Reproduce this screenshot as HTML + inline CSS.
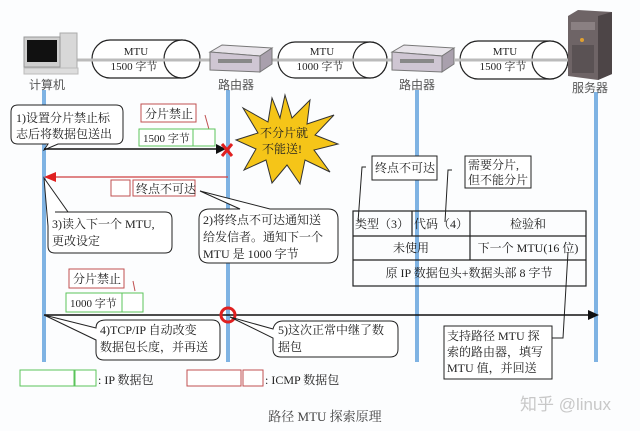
<!DOCTYPE html>
<html><head><meta charset="utf-8"><style>
html,body{margin:0;padding:0;background:#fff;}
svg{display:block;font-family:"Liberation Serif","Noto Serif CJK SC",serif;}
</style></head><body>
<svg width="640" height="431" viewBox="0 0 640 431" xmlns="http://www.w3.org/2000/svg">
<rect width="640" height="431" fill="#fcfdfe"/>
<!-- vertical lines -->
<g stroke="#7fb3e3" stroke-width="4">
<line x1="44" y1="90" x2="44" y2="362"/>
<line x1="228" y1="90" x2="228" y2="362"/>
<line x1="417" y1="90" x2="417" y2="362"/>
<line x1="596" y1="92" x2="596" y2="362"/>
</g>
<!-- cylinders -->
<g stroke="#222" stroke-width="1.2" fill="#fff">
<path d="M110,40 H182 A18,19 0 0 1 182,78 H110 A18,19 0 0 1 110,40 Z"/>
<ellipse cx="182" cy="59" rx="18" ry="19"/>
<path d="M295,42 H370 A17,18 0 0 1 370,78 H295 A17,18 0 0 1 295,42 Z"/>
<ellipse cx="370" cy="60" rx="17" ry="18"/>
<path d="M478,41 H550 A18,19 0 0 1 550,79 H478 A18,19 0 0 1 478,41 Z"/>
<ellipse cx="550" cy="60" rx="18" ry="19"/>
</g>
<g stroke="#bbb" stroke-width="3">
<line x1="77" y1="60" x2="210" y2="60"/>
<line x1="270" y1="60" x2="395" y2="60"/>
<line x1="455" y1="60" x2="570" y2="60"/>
</g>
<g font-size="11" text-anchor="middle" fill="#222">
<text x="136" y="55">MTU</text><text x="134" y="70">1500 字节</text>
<text x="322" y="55">MTU</text><text x="320" y="70">1000 字节</text>
<text x="505" y="55">MTU</text><text x="503" y="70">1500 字节</text>
</g>
<!-- computer -->
<rect x="60" y="33" width="17" height="40" fill="#d8d8d8" stroke="#aaa"/>
<rect x="24" y="37" width="36" height="30" fill="#cfcfcf" stroke="#999"/>
<rect x="27" y="40" width="30" height="22" fill="#111"/>
<rect x="24" y="68" width="54" height="6" fill="#ddd" stroke="#bbb"/>
<!-- routers -->
<g>
<polygon points="210,52 222,45 272,48 260,56" fill="#e8e4ea" stroke="#777"/>
<polygon points="210,52 260,56 260,72 210,70" fill="#cfc6d3" stroke="#777"/>
<polygon points="260,56 272,48 272,64 260,72" fill="#a9a0ad" stroke="#777"/>
<rect x="218" y="59" width="34" height="4" fill="#888"/>
<polygon points="392,52 404,45 454,48 442,56" fill="#e8e4ea" stroke="#777"/>
<polygon points="392,52 442,56 442,72 392,70" fill="#cfc6d3" stroke="#777"/>
<polygon points="442,56 454,48 454,64 442,72" fill="#a9a0ad" stroke="#777"/>
<rect x="400" y="59" width="34" height="4" fill="#888"/>
</g>
<!-- server -->
<polygon points="568,16 578,10 612,12 612,74 598,80 568,76" fill="#6e6466"/>
<polygon points="598,16 612,12 612,74 598,80" fill="#4d4547"/>
<rect x="571" y="22" width="24" height="8" fill="#8a8082"/>
<rect x="572" y="45" width="22" height="28" fill="#5a5254"/>
<circle cx="582" cy="40" r="2" fill="#e0a030"/>
<g font-size="12" fill="#555" text-anchor="middle" font-family="Liberation Sans,Noto Sans CJK SC,sans-serif">
<text x="47" y="89">计算机</text><text x="236" y="89">路由器</text><text x="417" y="89">路由器</text><text x="590" y="92">服务器</text>
</g>
<!-- bubble 1 -->
<path d="M18,105 H116 Q123,105 123,112 V137 Q123,144 116,144 H58 L44,150 L48,144 H18 Q11,144 11,137 V112 Q11,105 18,105 Z" fill="#fff" stroke="#222"/>
<g font-size="12" fill="#222"><text x="16" y="122">1)设置分片禁止标</text><text x="16" y="138">志后将数据包送出</text></g>
<!-- red/green boxes top -->
<rect x="141" y="104" width="55" height="18" fill="#fff" stroke="#c05050"/>
<text x="145" y="118" font-size="12" fill="#222">分片禁止</text>
<line x1="205" y1="115" x2="210" y2="133" stroke="#c05050"/>
<rect x="139" y="129" width="54" height="17" fill="#fff" stroke="#5bc45b"/>
<rect x="193" y="129" width="22" height="17" fill="#fff" stroke="#5bc45b"/>
<text x="143" y="142" font-size="11" fill="#222">1500 字节</text>
<line x1="44" y1="149" x2="222" y2="149" stroke="#111" stroke-width="1.5"/>
<polygon points="216,144 226,149 216,154" fill="#111"/>
<g stroke="#e02020" stroke-width="3"><line x1="222" y1="144" x2="232" y2="156"/><line x1="232" y1="144" x2="222" y2="156"/></g>
<!-- starburst -->
<polygon points="285,95 292,118 310,100 307,124 334,115 315,135 338,144 314,150 330,172 305,160 300,184 287,165 272,183 266,160 244,170 256,149 236,140 258,133 243,108 268,122 272,98 280,118" fill="#f5c518" stroke="#333" stroke-width="1"/>
<g font-size="12" fill="#222"><text x="260" y="137">不分片就</text><text x="262" y="153">不能送!</text></g>
<!-- red line -->
<line x1="228" y1="177" x2="52" y2="177" stroke="#d04040" stroke-width="1.3"/>
<polygon points="44,177 56,172 56,182" fill="#e02020"/>
<rect x="111" y="180" width="19" height="16" fill="#fff" stroke="#c05050"/>
<rect x="133" y="180" width="62" height="16" fill="#fff" stroke="#c05050"/>
<text x="136" y="193" font-size="12" fill="#222">终点不可达</text>
<!-- bubble 3 -->
<path d="M55,212 H165 Q172,212 172,219 V246 Q172,253 165,253 H55 Q48,253 48,246 V226 L44,178 L68,212 Z" fill="#fff" stroke="#222"/>
<g font-size="12" fill="#222"><text x="52" y="228">3)读入下一个 MTU,</text><text x="52" y="245">更改设定</text></g>
<!-- bubble 2 -->
<path d="M210,209 H240 L200,191 L270,209 H328 Q338,209 338,219 V253 Q338,263 328,263 H209 Q199,263 199,253 V219 Q199,209 210,209 Z" fill="#fff" stroke="#222"/>
<g font-size="12" fill="#222"><text x="203" y="224">2)将终点不可达通知送</text><text x="203" y="241">给发信者。通知下一个</text><text x="203" y="258">MTU 是 1000 字节</text></g>
<!-- table -->
<g stroke="#222" stroke-width="1.2" fill="none">
<rect x="353" y="211" width="233" height="75"/>
<line x1="353" y1="236" x2="586" y2="236"/><line x1="353" y1="260" x2="586" y2="260"/>
<line x1="412" y1="211" x2="412" y2="236"/><line x1="470" y1="211" x2="470" y2="260"/>
</g>
<g font-size="12" fill="#222" text-anchor="middle">
<text x="382" y="228">类型（3）</text><text x="441" y="228">代码（4）</text><text x="528" y="228">检验和</text>
<text x="411" y="252">未使用</text><text x="528" y="252">下一个 MTU(16 位)</text>
<text x="469" y="277">原 IP 数据包头+数据头部 8 字节</text>
</g>
<rect x="372" y="156" width="65" height="24" fill="#fff" stroke="#222"/>
<text x="375" y="172" font-size="12" fill="#222">终点不可达</text>
<rect x="465" y="156" width="66" height="32" fill="#fff" stroke="#222"/>
<g font-size="12" fill="#222"><text x="468" y="169">需要分片,</text><text x="468" y="184">但不能分片</text></g>
<path d="M366,167 H362 L358,222" stroke="#222" fill="none"/>
<path d="M452,170 H448 L445,222" stroke="#222" fill="none"/>
<path d="M552,338 H563 L568,252" stroke="#222" fill="none"/>
<!-- second packet -->
<rect x="69" y="269" width="55" height="19" fill="#fff" stroke="#c05050"/>
<text x="73" y="283" font-size="12" fill="#222">分片禁止</text>
<line x1="133" y1="281" x2="135" y2="291" stroke="#c05050"/>
<rect x="66" y="293" width="56" height="19" fill="#fff" stroke="#5bc45b"/>
<rect x="122" y="293" width="21" height="19" fill="#fff" stroke="#5bc45b"/>
<text x="70" y="307" font-size="11" fill="#222">1000 字节</text>
<line x1="44" y1="315" x2="590" y2="315" stroke="#111" stroke-width="1.5"/>
<polygon points="588,310 599,315 588,320" fill="#111"/>
<circle cx="228" cy="315" r="7" fill="none" stroke="#e02020" stroke-width="3"/>
<!-- bubble 4 -->
<path d="M106,320 H212 Q220,320 220,328 V352 Q220,360 212,360 H104 Q96,360 96,352 V340 L44,315 L96,328 Q96,320 106,320 Z" fill="#fff" stroke="#222"/>
<g font-size="12" fill="#222"><text x="100" y="334">4)TCP/IP 自动改变</text><text x="100" y="351">数据包长度，并再送</text></g>
<!-- bubble 5 -->
<path d="M283,321 H390 Q398,321 398,329 V349 Q398,357 390,357 H281 Q273,357 273,349 V338 L230,317 L273,329 Q275,321 283,321 Z" fill="#fff" stroke="#222"/>
<g font-size="12" fill="#222"><text x="278" y="334">5)这次正常中继了数</text><text x="278" y="351">据包</text></g>
<!-- side box -->
<rect x="444" y="326" width="108" height="53" fill="#fff" stroke="#222"/>
<g font-size="12" fill="#222"><text x="447" y="340">支持路径 MTU 探</text><text x="447" y="356">索的路由器，填写</text><text x="447" y="372">MTU 值，并回送</text></g>
<!-- legend -->
<rect x="20" y="370" width="54" height="16" fill="#fff" stroke="#5bc45b"/>
<rect x="75" y="370" width="21" height="16" fill="#fff" stroke="#5bc45b"/>
<text x="98" y="384" font-size="12" fill="#222">: IP 数据包</text>
<rect x="187" y="370" width="54" height="16" fill="#fff" stroke="#c05050"/>
<rect x="243" y="370" width="20" height="16" fill="#fff" stroke="#c05050"/>
<text x="265" y="384" font-size="12" fill="#222">: ICMP 数据包</text>
<text x="325" y="421" font-size="13" fill="#444" text-anchor="middle">路径 MTU 探索原理</text>
<text x="520" y="410" font-size="17" fill="#c8c8c8" font-family="Liberation Sans,Noto Sans CJK SC,sans-serif">知乎 @linux</text>
</svg>
</body></html>
